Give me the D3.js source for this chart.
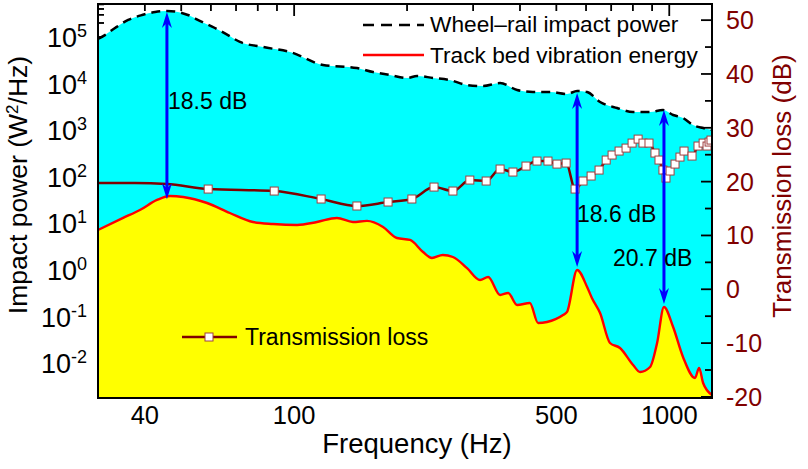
<!DOCTYPE html>
<html><head><meta charset="utf-8">
<script src="https://cdn.jsdelivr.net/npm/d3@7"></script>
<style>body{margin:0;background:#fff}svg{display:block;font-family:"Liberation Sans",Arial,sans-serif}</style>
</head><body><svg id="c" width="808" height="469"></svg>
<script>
// ---- data ----
const freqImpact = [30,31.3,33.3,36.1,39.3,42.6,45.8,49.0,52.1,56.8,61.5,66.6,71.7,82.6,97.5,119.4,147,162.3,180,200,212.6,234.5,260,289,319,354,393,433,481,534,568,604,654,726,801,889,962,1024,1088,1157,1231,1300];
const impactPower = [9.06e4,1.10e5,1.56e5,2.32e5,2.96e5,3.44e5,3.61e5,3.44e5,2.96e5,2.10e5,1.56e5,1.10e5,7.82e4,6.10e4,4.76e4,2.51e4,2.16e4,1.77e4,1.53e4,1.32e4,1.46e4,1.32e4,1.19e4,9.33e3,8.87e3,1.03e4,7.29e3,6.61e3,6.61e3,5.98e3,6.93e3,6.61e3,4.03e3,2.99e3,2.46e3,2.46e3,2.71e3,2.12e3,1.83e3,1.29e3,1.11e3,1.01e3];

const freqTrack = [30,35,38.8,43.1,46.7,50.6,58.6,67.4,77.7,87.8,101.8,115,130,143.5,156.4,172.6,188,203.7,220.6,233,249,265,289,313,329,354,372,393,425,447,472,521,534,568,604,622,654,695,739,801,836,889,928,968,1024,1088,1171,1201,1231,1300];
const trackEnergy = [7.21,13.1,19.4,31.8,38.7,36.9,27.4,16.7,10.7,9.71,9.25,10.7,13.1,10.7,11.3,8.38,4.86,4.41,2.43,1.81,2.10,1.90,1.10,0.610,0.708,0.291,0.321,0.177,0.196,0.0729,0.0766,0.108,0.126,1.0,0.432,0.251,0.119,0.0271,0.0212,0.00914,0.00647,0.00828,0.0271,0.161,0.0598,0.0136,0.00481,0.00789,0.00376,0.00208];

const freqTLLead = [30,37.6,45.8];
const tlLead = [19.74,19.74,19.55];
const freqTL = [59,88.5,118,147,178,206,236,265,294,325,354,383,415,444,475,502,531,561,589,619,650,679,704,735,767,796,826,851,883,916,939,962,980,1005,1036,1068,1095,1150,1193,1231,1261,1277,1292];
const transLoss = [18.62,18.25,16.77,15.47,16.21,16.77,18.99,18.25,20.29,20.11,22.34,21.78,22.89,23.82,23.82,23.26,23.45,18.62,20.11,21.04,22.15,24.01,24.94,25.68,26.23,27.16,27.90,27.16,27.16,25.31,24.01,22.15,20.66,21.97,23.26,24.56,25.68,24.75,26.61,27.16,26.61,27.35,27.72];

const annFreq = [45.8,568,968];
const annTop = [3.44e5,6.3e3,2.7e3];
const annBottom = [33,1.16,0.186];
const annLabels = ["18.5 dB","18.6 dB","20.7 dB"];

const xTicks = [40,100,500,1000];
const yLeftExp = [-2,-1,0,1,2,3,4,5];
const yRightTicks = [-20,-10,0,10,20,30,40,50];

// ---- drawing ----
const L=98,R=712,T=4,B=398;
const svg = d3.select("#c");
const x = d3.scaleLog().domain([30,1300]).range([L,R]);
const yL = d3.scaleLog().domain([Math.pow(10,-2.747),Math.pow(10,5.708)]).range([B,T]);
const yR = d3.scaleLinear().domain([-20.2,53]).range([B,T]);
const maroon = "#800000";

svg.append("defs").append("clipPath").attr("id","clip").append("rect")
  .attr("x",L).attr("y",T).attr("width",R-L).attr("height",B-T);

// left ticks (under fills)
const under = svg.append("g");
yLeftExp.concat([5]).forEach((e,j)=>{
  for(let k=1;k<10;k++){
    const v=k*Math.pow(10,e); const yy=yL(v);
    if(yy<T||yy>B) continue;
    under.append("line").attr("x1",L).attr("x2",L+(k===1?10:6)).attr("y1",yy).attr("y2",yy).attr("stroke","#000").attr("stroke-width",1.5);
  }
});

const plot = svg.append("g").attr("clip-path","url(#clip)");
const idx = a=>a.map((d,i)=>i);
const areaImpact = d3.area().x(i=>x(freqImpact[i])).y0(B).y1(i=>yL(impactPower[i])).curve(d3.curveMonotoneX);
const lineImpact = d3.line().x(i=>x(freqImpact[i])).y(i=>yL(impactPower[i])).curve(d3.curveMonotoneX);
const areaTrack = d3.area().x(i=>x(freqTrack[i])).y0(B).y1(i=>yL(trackEnergy[i])).curve(d3.curveMonotoneX);
const lineTrack = d3.line().x(i=>x(freqTrack[i])).y(i=>yL(trackEnergy[i])).curve(d3.curveMonotoneX);

plot.append("path").attr("d",areaImpact(idx(freqImpact))).attr("fill","#00FFFF");
plot.append("path").attr("d",areaTrack(idx(freqTrack))).attr("fill","#FFFF00");
plot.append("path").attr("d",lineTrack(idx(freqTrack))).attr("fill","none").attr("stroke","#FF0000").attr("stroke-width",2.4);
plot.append("path").attr("d",lineImpact(idx(freqImpact))).attr("fill","none").attr("stroke","#000").attr("stroke-width",2.5).attr("stroke-dasharray","9,6");

// transmission loss
const tlAll = freqTLLead.map((f,i)=>[f,tlLead[i]]).concat(freqTL.map((f,i)=>[f,transLoss[i]]));
plot.append("path").attr("d",d3.line().x(d=>x(d[0])).y(d=>yR(d[1])).curve(d3.curveMonotoneX)(tlAll))
  .attr("fill","none").attr("stroke",maroon).attr("stroke-width",2.5);
plot.selectAll("rect.m").data(freqTL.map((f,i)=>[f,transLoss[i]])).enter().append("rect")
  .attr("x",d=>x(d[0])-4).attr("y",d=>yR(d[1])-4).attr("width",8).attr("height",8)
  .attr("fill","#fff").attr("stroke","#a04040").attr("stroke-width",1);

// arrows
const blue="#0000FF";
function head(xx,yy,dir){
  const l=16,w=5,n=11;
  return `M${xx},${yy} L${xx+w},${yy-dir*l} L${xx},${yy-dir*n} L${xx-w},${yy-dir*l} Z`;
}
annFreq.forEach((f,i)=>{
  const xx=x(f), y1=yL(annTop[i]), y2=yL(annBottom[i]);
  svg.append("line").attr("x1",xx).attr("x2",xx).attr("y1",y1+8).attr("y2",y2-8).attr("stroke",blue).attr("stroke-width",3);
  svg.append("path").attr("d",head(xx,y1,-1)).attr("fill",blue);
  svg.append("path").attr("d",head(xx,y2,1)).attr("fill",blue);
});
const labPos=[[168,109],[577,222],[613,266]];
annLabels.forEach((t,i)=>svg.append("text").attr("x",labPos[i][0]).attr("y",labPos[i][1]).attr("font-size",23).attr("fill","#000").text(t));

// legend
svg.append("line").attr("x1",363).attr("x2",424).attr("y1",25).attr("y2",25).attr("stroke","#000").attr("stroke-width",2.5).attr("stroke-dasharray","11,7");
svg.append("text").attr("x",430).attr("y",32).attr("font-size",22.7).text("Wheel\u2013rail impact power");
svg.append("line").attr("x1",363).attr("x2",424).attr("y1",55).attr("y2",55).attr("stroke","#FF0000").attr("stroke-width",2.5);
svg.append("text").attr("x",430).attr("y",63).attr("font-size",22.7).text("Track bed vibration energy");
svg.append("line").attr("x1",182).attr("x2",237).attr("y1",337).attr("y2",337).attr("stroke",maroon).attr("stroke-width",2.5);
svg.append("rect").attr("x",205).attr("y",333).attr("width",8).attr("height",8).attr("fill","#fff").attr("stroke","#a04040");
svg.append("text").attr("x",245).attr("y",345).attr("font-size",23).text("Transmission loss");

// frame
svg.append("rect").attr("x",L).attr("y",T).attr("width",R-L).attr("height",B-T).attr("fill","none").attr("stroke","#000").attr("stroke-width",2);

// top ticks
const topG=svg.append("g");
[30,40,50,60,70,80,90,100,200,300,400,500,600,700,800,900,1000].forEach(f=>{
  const major=(f===100||f===1000);
  topG.append("line").attr("x1",x(f)).attr("x2",x(f)).attr("y1",T).attr("y2",T+(major?12:7)).attr("stroke","#000").attr("stroke-width",1.8);
});
// right ticks
for(let v=-20;v<=50;v+=5){
  const major=v%10===0;
  svg.append("line").attr("x1",R).attr("x2",R-(major?11:7)).attr("y1",yR(v)).attr("y2",yR(v)).attr("stroke","#000").attr("stroke-width",1.8);
}

// bottom tick labels
xTicks.forEach(f=>svg.append("text").attr("x",x(f)).attr("y",424).attr("text-anchor","middle").attr("font-size",25.5).text(f));
// left tick labels
yLeftExp.forEach(e=>{
  const t=svg.append("text").attr("x",87).attr("y",yL(Math.pow(10,e))+10).attr("text-anchor","end").attr("font-size",27);
  t.append("tspan").text("10");
  t.append("tspan").attr("dy",-10).attr("font-size",18).text(e);
});
// right tick labels
yRightTicks.forEach(v=>svg.append("text").attr("x",726).attr("y",yR(v)+9).attr("font-size",25).attr("fill",maroon).text(v));

// axis titles
svg.append("text").attr("x",417).attr("y",453).attr("text-anchor","middle").attr("font-size",27.5).text("Frequency (Hz)");
const lt=svg.append("text").attr("transform","translate(27,185) rotate(-90)").attr("text-anchor","middle").attr("font-size",26.5);
lt.append("tspan").text("Impact power (W");
lt.append("tspan").attr("dy",-9).attr("font-size",17).text("2");
lt.append("tspan").attr("dy",9).text("/Hz)");
svg.append("text").attr("transform","translate(791,186) rotate(-90)").attr("text-anchor","middle").attr("font-size",26).attr("fill",maroon).text("Transmission loss (dB)");
</script></body></html>
